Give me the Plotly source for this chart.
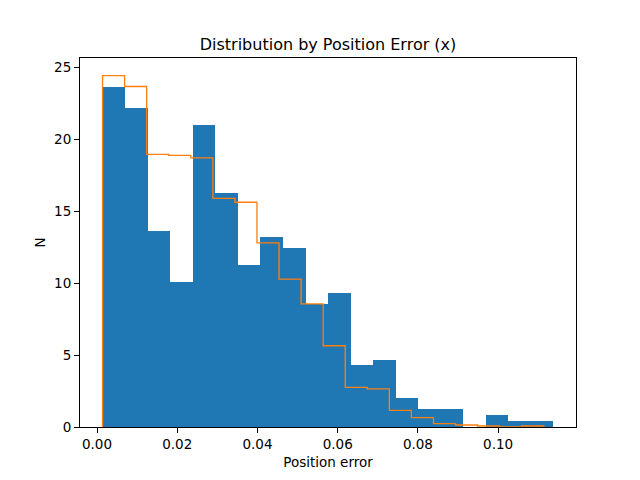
import plotly.graph_objects as go

# Bin definitions
blue_start = 0.00143
blue_width = 0.005618
blue_counts = [23.68, 22.17, 13.64, 10.1, 20.99, 16.3, 11.28, 13.22, 12.46, 8.58,
               9.34, 4.28, 4.69, 1.99, 1.23, 1.23, 0.0, 0.81, 0.4, 0.4]

orange_start = 0.00138
orange_width = 0.0055
orange_counts = [24.44, 23.68, 18.96, 18.89, 18.72, 15.9, 15.63, 12.81, 10.29, 8.56,
                 5.65, 2.75, 2.65, 1.16, 0.65, 0.24, 0.14, 0.07, 0.0, 0.07]

x_ticks = [0.0, 0.02, 0.04, 0.06, 0.08, 0.10]
y_ticks = [0, 5, 10, 15, 20, 25]

fig = go.Figure()

blue_centers = [blue_start + (i + 0.5) * blue_width for i in range(len(blue_counts))]
fig.add_trace(go.Bar(x=blue_centers, y=blue_counts, width=[blue_width] * len(blue_counts),
                     marker=dict(color="#1f77b4", line=dict(width=0)), showlegend=False))

edges = [orange_start + i * orange_width for i in range(len(orange_counts) + 1)]
sx, sy = [edges[0]], [0]
for i, h in enumerate(orange_counts):
    sx += [edges[i], edges[i + 1]]
    sy += [h, h]
sx.append(edges[-1])
sy.append(0)
fig.add_trace(go.Scatter(x=sx, y=sy, mode="lines", line=dict(color="#ff7f0e", width=1.3),
                         showlegend=False))

all_min = min(blue_start, orange_start)
all_max = max(blue_start + blue_width * len(blue_counts), edges[-1])
pad = 0.05 * (all_max - all_min)
ymax = max(max(blue_counts), max(orange_counts)) * 1.05

axis_common = dict(showline=True, linecolor="black", linewidth=1, mirror=True,
                   ticks="outside", ticklen=5, tickcolor="black", showgrid=False,
                   zeroline=False, tickfont=dict(size=13.5, color="black"))

fig.update_layout(
    width=640, height=480,
    margin=dict(l=72, r=72, t=50, b=61),
    plot_bgcolor="white", paper_bgcolor="white",
    font=dict(family="DejaVu Sans", color="black"),
    bargap=0,
    title=dict(text="Distribution by Position Error (x)", x=0.5, xref="paper", xanchor="center",
               y=1 - 36 / 480, yanchor="middle", font=dict(size=16, color="black")),
    xaxis=dict(range=[all_min - pad, all_max + pad], tickvals=x_ticks,
               ticktext=[f"{v:.2f}" for v in x_ticks],
               title=dict(text="Position error", font=dict(size=13.5), standoff=6),
               **axis_common),
    yaxis=dict(range=[0, ymax], tickvals=y_ticks,
               title=dict(text="N", font=dict(size=13.5), standoff=5),
               **axis_common),
)

fig.write_html("out.html")
